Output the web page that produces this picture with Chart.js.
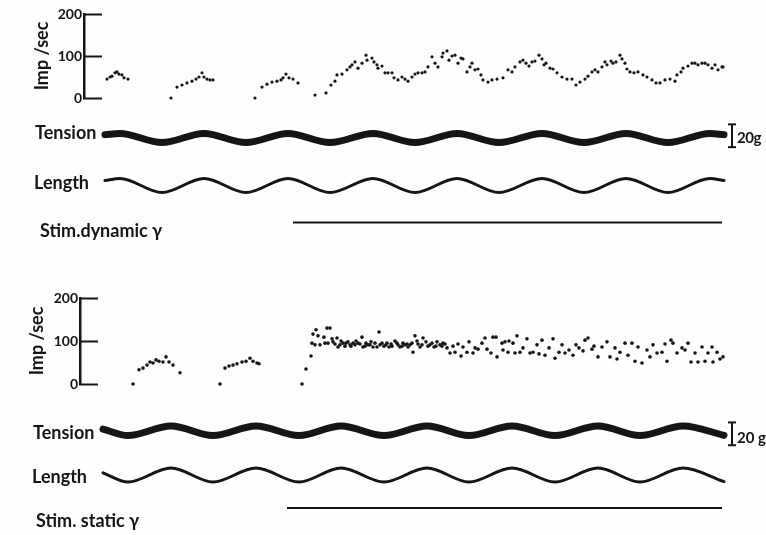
<!DOCTYPE html>
<html>
<head>
<meta charset="utf-8">
<script src="https://cdn.jsdelivr.net/npm/chart.js@4.4.1/dist/chart.umd.min.js"></script>
<style>
  html, body { margin: 0; padding: 0; background: #fff; }
  #fig { position: relative; width: 766px; height: 535px; overflow: hidden; background: #fefefd; }
  #fig canvas { position: absolute; left: 0; }
  .lbl { position: absolute; font: 700 18px Lato, "Open Sans", sans-serif; color: #151515;
         line-height: 22px; white-space: nowrap; }
  .cal { font-size: 15px; line-height: 20px; }
</style>
</head>
<body>
<div id="fig">
  <canvas id="rateDyn"  width="766" height="110" style="top:0px"></canvas>
  <canvas id="tensDyn"  width="766" height="50"  style="top:110px"></canvas>
  <canvas id="lenDyn"   width="766" height="31"  style="top:170px"></canvas>
  <canvas id="stimDyn"  width="766" height="21"  style="top:212px"></canvas>

  <canvas id="rateStat" width="766" height="112" style="top:284px"></canvas>
  <canvas id="tensStat" width="766" height="50"  style="top:405px"></canvas>
  <canvas id="lenStat"  width="766" height="30"  style="top:460px"></canvas>
  <canvas id="stimStat" width="766" height="20"  style="top:498px"></canvas>

  <div class="lbl" style="left:35px;top:121px">Tension</div>
  <div class="lbl" style="left:34px;top:171px">Length</div>
  <div class="lbl" style="left:40px;top:219px">Stim.dynamic γ</div>
  <div class="lbl cal" style="left:737px;top:127px;letter-spacing:-0.5px">20g</div>

  <div class="lbl" style="left:33px;top:421px">Tension</div>
  <div class="lbl" style="left:32px;top:465px">Length</div>
  <div class="lbl" style="left:36px;top:509px">Stim. static γ</div>
  <div class="lbl cal" style="left:737px;top:427px">20 g</div>
</div>

<script>
// ---- Record 1: dynamic fusimotor stimulation ----
// [time (s), discharge rate (imp/sec)]
const dynamicRate = [
  [0.02,45],[0.05,50],[0.07,52],[0.10,60],[0.12,62],[0.14,57],[0.17,55],[0.19,48],[0.23,45],
  [0.66,0],[0.72,26],[0.77,31],[0.82,36],[0.87,40],[0.91,45],[0.94,50],[0.97,60],[0.99,50],[1.02,45],[1.05,43],[1.08,43],
  [1.50,0],[1.57,26],[1.62,33],[1.67,38],[1.72,40],[1.76,43],[1.78,48],[1.81,57],[1.84,48],[1.88,45],[1.93,36],
  [2.10,7],[2.21,12],[2.26,31],[2.30,40],[2.32,55],[2.37,57],[2.42,67],[2.45,74],[2.47,79],[2.50,86],
  [2.53,71],[2.57,83],[2.61,102],[2.62,90],[2.67,95],[2.69,86],[2.72,79],[2.73,71],[2.77,76],[2.80,60],
  [2.83,60],[2.87,60],[2.89,48],[2.93,43],[2.97,50],[3.00,45],[3.03,40],[3.07,50],[3.10,57],[3.13,60],
  [3.17,60],[3.20,62],[3.23,74],[3.27,98],[3.30,83],[3.33,74],[3.37,98],[3.38,107],[3.42,112],[3.44,90],
  [3.47,100],[3.50,102],[3.53,83],[3.56,95],[3.58,93],[3.62,62],[3.65,74],[3.67,83],[3.70,67],[3.73,69],
  [3.76,55],[3.78,43],[3.83,38],[3.87,43],[3.92,45],[3.98,48],[4.03,67],[4.07,62],[4.10,74],[4.15,86],
  [4.18,90],[4.21,83],[4.24,76],[4.27,86],[4.30,88],[4.34,102],[4.37,93],[4.39,79],[4.41,83],[4.45,71],
  [4.48,69],[4.52,60],[4.57,50],[4.62,45],[4.67,45],[4.71,31],[4.75,38],[4.80,45],[4.83,52],[4.87,62],
  [4.90,67],[4.93,62],[4.97,74],[5.00,86],[5.02,79],[5.06,88],[5.08,83],[5.11,86],[5.15,102],[5.17,93],
  [5.20,83],[5.22,69],[5.25,62],[5.29,60],[5.33,62],[5.38,55],[5.42,50],[5.47,43],[5.51,36],[5.55,36],
  [5.60,43],[5.65,45],[5.70,40],[5.72,55],[5.76,62],[5.78,71],[5.83,76],[5.87,83],[5.90,83],[5.93,79],
  [5.97,83],[6.00,83],[6.03,79],[6.07,71],[6.10,79],[6.13,67],[6.17,74],[6.18,74]
];
// times (s) of the start, the crests and troughs, and the end of the stretch cycle
const dynWaveTimes = [0.00,0.15,0.57,0.99,1.41,1.83,2.25,2.68,3.10,3.52,3.94,4.37,4.79,5.21,5.63,6.05,6.19];
const dynTension   = [3, 4,-4, 4,-4, 4,-4, 4,-4, 4,-4, 4,-4, 4,-4, 4, 3];          // g about mean
const dynLength    = [0.7, 1,-1, 1,-1, 1,-1, 1,-1, 1,-1, 1,-1, 1,-1, 1, 0.7];     // relative
const dynStim      = [1.88, 6.17];                                              // stimulus on, off (s)

// ---- Record 2: static fusimotor stimulation ----
const staticRate = [
  [0.28,0],[0.34,33],[0.38,37],[0.42,44],[0.45,51],[0.48,49],[0.51,56],[0.54,53],[0.58,51],[0.61,63],[0.64,51],[0.68,44],[0.75,26],
  [1.15,0],[1.20,37],[1.24,42],[1.28,44],[1.32,47],[1.37,51],[1.41,53],[1.45,60],[1.48,53],[1.52,49],[1.54,47],
  [1.97,0],[2.01,35],[2.06,65],[2.07,95],[2.08,116],[2.10,91],[2.11,126],[2.13,112],[2.15,91],[2.19,109],
  [2.20,95],[2.22,130],[2.23,95],[2.25,130],[2.27,105],[2.28,98],[2.30,93],[2.32,107],[2.33,86],[2.35,91],
  [2.36,100],[2.38,95],[2.40,88],[2.41,95],[2.43,98],[2.45,91],[2.46,88],[2.48,95],[2.50,91],[2.51,100],
  [2.53,95],[2.55,93],[2.57,109],[2.58,86],[2.60,88],[2.61,95],[2.63,91],[2.65,91],[2.66,98],[2.68,86],
  [2.70,95],[2.72,86],[2.74,121],[2.75,91],[2.77,95],[2.79,88],[2.81,91],[2.82,95],[2.84,86],[2.86,93],
  [2.87,88],[2.90,100],[2.92,95],[2.93,91],[2.95,86],[2.97,88],[2.98,95],[3.00,91],[3.02,93],[3.03,86],
  [3.05,91],[3.07,95],[3.08,74],[3.10,112],[3.12,100],[3.13,93],[3.15,86],[3.17,91],[3.18,107],[3.21,98],
  [3.23,88],[3.25,91],[3.27,95],[3.29,86],[3.31,88],[3.32,98],[3.35,91],[3.37,88],[3.38,95],[3.40,93],
  [3.42,84],[3.45,72],[3.48,88],[3.50,74],[3.53,93],[3.56,65],[3.58,86],[3.62,74],[3.64,98],[3.68,72],
  [3.70,84],[3.73,81],[3.77,95],[3.80,107],[3.82,81],[3.86,72],[3.88,109],[3.91,109],[3.92,63],[3.97,95],
  [3.98,79],[4.00,98],[4.03,74],[4.04,100],[4.08,95],[4.10,72],[4.12,112],[4.15,74],[4.18,84],[4.22,105],
  [4.25,72],[4.28,74],[4.32,91],[4.34,70],[4.37,102],[4.40,67],[4.44,84],[4.48,105],[4.50,60],[4.54,74],
  [4.57,91],[4.60,72],[4.64,79],[4.68,67],[4.71,91],[4.74,84],[4.78,77],[4.80,102],[4.83,107],[4.87,81],
  [4.89,88],[4.93,63],[4.97,86],[5.02,98],[5.05,63],[5.10,84],[5.12,58],[5.15,74],[5.20,95],[5.23,67],
  [5.27,95],[5.30,53],[5.33,86],[5.37,49],[5.42,79],[5.45,63],[5.48,91],[5.52,72],[5.57,74],[5.60,93],
  [5.62,53],[5.66,102],[5.68,95],[5.72,72],[5.77,84],[5.80,79],[5.83,95],[5.86,51],[5.90,72],[5.93,51],
  [5.97,86],[6.00,53],[6.03,72],[6.07,86],[6.08,51],[6.12,74],[6.15,58],[6.18,63]
];
const statWaveTimes = [-0.02,0.23,0.66,1.08,1.51,1.94,2.36,2.79,3.22,3.64,4.07,4.50,4.93,5.35,5.78,6.19];
const statTension   = [1.5,-4.2,4.2,-4.2,4.2,-4.2,4.2,-4.2,4.2,-4.2,4.2,-4.2,4.2,-4.2,4.2,-4];
const statLength    = [0.3,-1, 1,-1, 1,-1, 1,-1, 1,-1, 1,-1, 1,-1, 1,-0.95];
const statStim      = [1.82, 6.17];

// tension calibration bar (g)
const calibration = 20;
const calTime = 6.27;

// ---- drawing ----
const INK = '#151515';
const FONT = 'Lato, "Open Sans", sans-serif';
const X_MAX = 6.41;

const pairs = (ts, vs) => ts.map((t, i) => ({ x: t, y: vs[i] }));
const asPoints = arr => arr.map(([t, v]) => ({ x: t, y: v }));

function chartAt(id, xMin, padLeft, padTop, padBottom, yScale, datasets) {
  return new Chart(document.getElementById(id), {
    type: 'line',
    data: { datasets },
    options: {
      responsive: false, animation: false, events: [],
      layout: { padding: { left: padLeft, right: 766 - 746, top: padTop, bottom: padBottom } },
      plugins: { legend: { display: false }, tooltip: { enabled: false } },
      scales: {
        x: { type: 'linear', display: false, min: xMin, max: X_MAX },
        y: yScale
      }
    }
  });
}

// left axis whose tick marks point into the plot and whose labels sit against the spine
function rateAxis(spineX, titlePad) {
  return {
    min: 0, max: 200,
    afterFit(scale) {
      scale.width = spineX;
      scale.paddingTop = 0;
      scale.paddingBottom = 0;
    },
    border: { display: true, color: INK, width: 2.5 },
    grid: { drawOnChartArea: false, drawTicks: true, tickLength: -18, tickWidth: 2, tickColor: INK },
    ticks: { stepSize: 100, padding: 20, color: INK, font: { family: FONT, size: 14, weight: 'bold' } },
    title: { display: true, text: 'Imp /sec', color: INK,
             padding: { top: titlePad, bottom: 0 }, font: { family: FONT, size: 18, weight: 'bold' } }
  };
}

function dots(points, r) {
  return { data: asPoints(points), showLine: false, pointRadius: r, pointBorderWidth: 0,
           pointBackgroundColor: INK, clip: false };
}
function trace(ts, vs, width) {
  return { data: pairs(ts, vs), borderColor: INK, borderWidth: width, pointRadius: 0,
           cubicInterpolationMode: 'monotone', borderCapStyle: 'round', borderJoinStyle: 'round' };
}
function calBar(base) {
  return { data: [{ x: calTime, y: base }, { x: calTime, y: base + calibration }],
           borderColor: INK, borderWidth: 2, tension: 0, pointStyle: 'line', pointRadius: 4,
           pointBorderWidth: 2, pointBorderColor: INK };
}
function stimBar(onOff) {
  return { data: onOff.map(t => ({ x: t, y: 1 })), borderColor: INK, borderWidth: 2.2, pointRadius: 0 };
}
const hidden = (min, max) => ({ display: false, min, max });

// record 1 (spine at t = -0.21 s)
const x1 = -0.21, left1 = 84;
chartAt('rateDyn', x1, 0, 14, 12, rateAxis(left1, 31), [dots(dynamicRate, 1.6)]);
chartAt('tensDyn', x1, left1, 0, 0, hidden(-14, 19.33), [trace(dynWaveTimes, dynTension, 7), calBar(-8)]);
chartAt('lenDyn',  x1, left1, 0, 0, hidden(-2.2, 2.2), [trace(dynWaveTimes, dynLength, 3)]);
chartAt('stimDyn', x1, left1, 0, 0, hidden(0, 2), [stimBar(dynStim)]);

// record 2 (spine at t = -0.25 s)
const x2 = -0.25, left2 = 80;
chartAt('rateStat', x2, 0, 14, 12, rateAxis(left2, 26), [dots(staticRate, 1.8)]);
chartAt('tensStat', x2, left2, 0, 0, hidden(-16, 17.33), [trace(statWaveTimes, statTension, 7), calBar(-12.7)]);
chartAt('lenStat',  x2, left2, 0, 0, hidden(-2.15, 2.15), [trace(statWaveTimes, statLength, 3)]);
chartAt('stimStat', x2, left2, 0, 0, hidden(0, 2), [stimBar(statStim)]);
</script>
</body>
</html>
